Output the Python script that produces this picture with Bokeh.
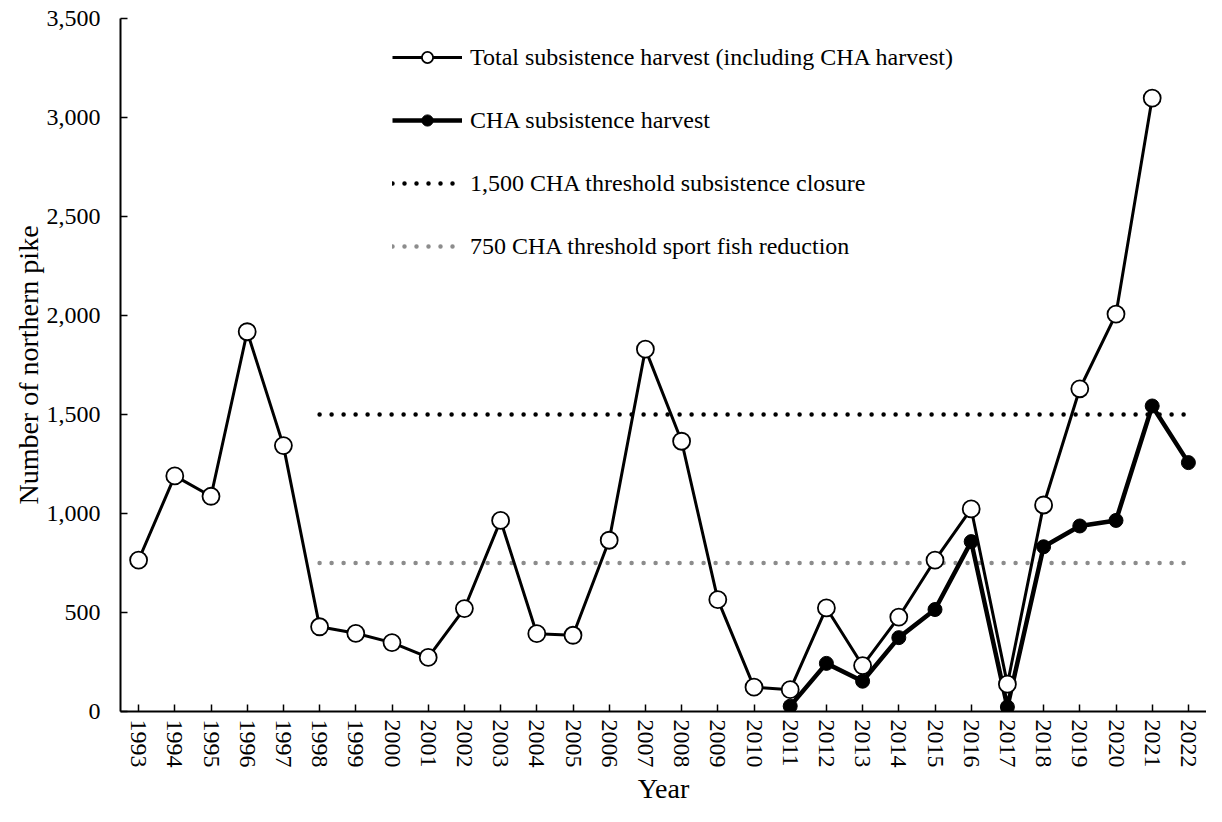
import math
from bokeh.plotting import figure
from bokeh.models import FactorRange, Range1d, FixedTicker, NumeralTickFormatter, Legend, LegendItem, ColumnDataSource
from bokeh.embed import file_html
from bokeh.resources import INLINE

years = [str(y) for y in range(1993, 2023)]
total_harvest = [765, 1190, 1087, 1918, 1343, 428, 395, 348, 273, 520,
                 965, 393, 385, 865, 1830, 1365, 565, 123, 110, 523,
                 232, 477, 765, 1023, 138, 1043, 1630, 2007, 3098, float("nan")]
cha_years = [str(y) for y in range(2011, 2023)]
cha_harvest = [27, 243, 153, 373, 515, 858, 23, 832, 937, 965, 1543, 1257]
threshold_years = ["1998", "2022"]
closure_threshold = [1500, 1500]
reduction_threshold = [750, 750]
y_ticks = [0, 500, 1000, 1500, 2000, 2500, 3000, 3500]

FONT = "Liberation Serif"

p = figure(x_range=FactorRange(*years), y_range=Range1d(0, 3500),
           width=1206, height=806, output_backend="svg", toolbar_location=None,
           min_border_left=120, min_border_right=0, min_border_top=18, min_border_bottom=88)
p.outline_line_color = None
p.grid.grid_line_color = None
p.background_fill_color = "white"

tot_src = ColumnDataSource(dict(x=years, y=total_harvest))
cha_src = ColumnDataSource(dict(x=cha_years, y=cha_harvest))

r_close = p.line(threshold_years, closure_threshold, line_color="black", line_width=4.5,
                 line_dash="0 12", line_cap="round")
r_red = p.line(threshold_years, reduction_threshold, line_color="#8c8c8c", line_width=4.5,
               line_dash="0 12", line_cap="round")

r_cha_l = p.line("x", "y", source=cha_src, line_color="black", line_width=4.5)
r_cha_m = p.scatter("x", "y", source=cha_src, size=14, fill_color="black", line_color="black")

r_tot_l = p.line("x", "y", source=tot_src, line_color="black", line_width=3)
r_tot_m = p.scatter("x", "y", source=tot_src, size=17, fill_color="white", line_color="black", line_width=1.8)

legend = Legend(items=[
    LegendItem(label="Total subsistence harvest (including CHA harvest)", renderers=[r_tot_l, r_tot_m]),
    LegendItem(label="CHA subsistence harvest", renderers=[r_cha_l, r_cha_m]),
    LegendItem(label="1,500 CHA threshold subsistence closure", renderers=[r_close]),
    LegendItem(label="750 CHA threshold sport fish reduction", renderers=[r_red]),
], location=(272, 451))
legend.label_text_font = FONT
legend.label_text_font_size = "24px"
legend.label_text_color = "black"
legend.glyph_width = 70
legend.glyph_height = 28
legend.label_height = 28
legend.label_standoff = 8
legend.spacing = 35
legend.padding = 0
legend.margin = 0
legend.border_line_color = None
legend.background_fill_alpha = 0
p.add_layout(legend, "center")

for ax in (p.xaxis[0], p.yaxis[0]):
    ax.axis_line_width = 2
    ax.axis_line_color = "black"
    ax.major_tick_in = 7
    ax.major_tick_out = 0
    ax.major_tick_line_width = 1.5
    ax.major_tick_line_color = "black"
    ax.minor_tick_line_color = None
    ax.major_label_text_font = FONT
    ax.major_label_text_font_size = "24px"
    ax.major_label_text_color = "black"
    ax.axis_label_text_font = FONT
    ax.axis_label_text_font_size = "28px"
    ax.axis_label_text_font_style = "normal"
    ax.axis_label_text_color = "black"

p.xaxis.axis_label = "Year"
p.xaxis.major_label_orientation = "vertical"
p.xaxis.major_label_standoff = 8
p.xaxis.axis_label_standoff = 2

p.yaxis.axis_label = "Number of northern pike"
p.yaxis.ticker = FixedTicker(ticks=y_ticks)
p.yaxis.formatter = NumeralTickFormatter(format="0,0")
p.yaxis.major_label_standoff = 20
p.yaxis.axis_label_standoff = 0

open("out.html", "w").write(file_html(p, INLINE))
